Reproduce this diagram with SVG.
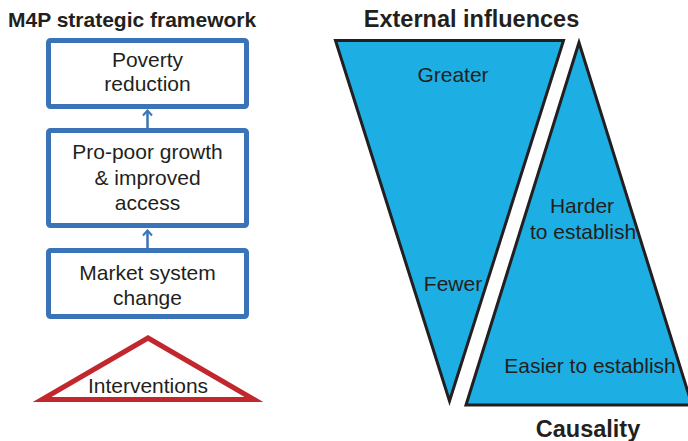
<svg xmlns="http://www.w3.org/2000/svg" width="688" height="441" viewBox="0 0 688 441">
<style>
text{font-family:"Liberation Sans",Arial,sans-serif;fill:#231F20;text-anchor:middle}
.t{font-size:21px}
.h{font-weight:bold;font-size:21px}
.h2{font-weight:bold;font-size:23.5px}
.box{fill:#fff;stroke:#3B73B9;stroke-width:5}
.tri{fill:#1DAEE4;stroke:#231F20;stroke-width:3;stroke-linejoin:miter}
.red{fill:#fff;stroke:#C1272D;stroke-width:5;stroke-linejoin:miter}
.arr{stroke:#3B73B9;stroke-width:2.5;fill:none}
</style>
<defs>
<marker id="ah" viewBox="-1 -6 8 12" refX="5" refY="0" markerWidth="8" markerHeight="12" markerUnits="userSpaceOnUse" orient="auto">
<path d="M0,-4.5 L5,0 L0,4.5" fill="none" stroke="#3B73B9" stroke-width="2"/>
</marker>
</defs>
<text class="h" x="8" y="27" style="text-anchor:start">M4P strategic framework</text>
<g id="connectors">
<line class="arr" x1="147.5" y1="128" x2="147.5" y2="110.5" marker-end="url(#ah)"/>
<line class="arr" x1="147.5" y1="248" x2="147.5" y2="230.5" marker-end="url(#ah)"/>
</g>
<g id="poverty">
<rect class="box" x="48.5" y="40.5" width="198" height="66" rx="2"/>
<text class="t" x="147.5" y="67">Poverty</text>
<text class="t" x="147.5" y="91">reduction</text>
</g>
<g id="growth">
<rect class="box" x="48.5" y="130.5" width="198" height="95" rx="2"/>
<text class="t" x="147.5" y="159">Pro-poor growth</text>
<text class="t" x="147.5" y="185">&amp; improved</text>
<text class="t" x="147.5" y="210">access</text>
</g>
<g id="market">
<rect class="box" x="48.5" y="250.5" width="198" height="66" rx="2"/>
<text class="t" x="147.5" y="280">Market system</text>
<text class="t" x="147.5" y="305">change</text>
</g>
<g id="interventions">
<polygon class="red" points="148,338 42,399.5 254,399.5"/>
<text class="t" x="148" y="393">Interventions</text>
</g>
<text class="h2" x="471.5" y="27">External influences</text>
<g id="external">
<polygon class="tri" points="335.5,40.5 563.5,40.5 449.5,401"/>
<text class="t" x="453" y="82">Greater</text>
<text class="t" x="453" y="291">Fewer</text>
</g>
<g id="causality">
<polygon class="tri" points="579,42.5 466,405 692,405"/>
<text class="t" x="582" y="213">Harder</text>
<text class="t" x="583" y="239">to establish</text>
<text class="t" x="590" y="373">Easier to establish</text>
</g>
<text class="h2" x="588" y="437">Causality</text>
</svg>
